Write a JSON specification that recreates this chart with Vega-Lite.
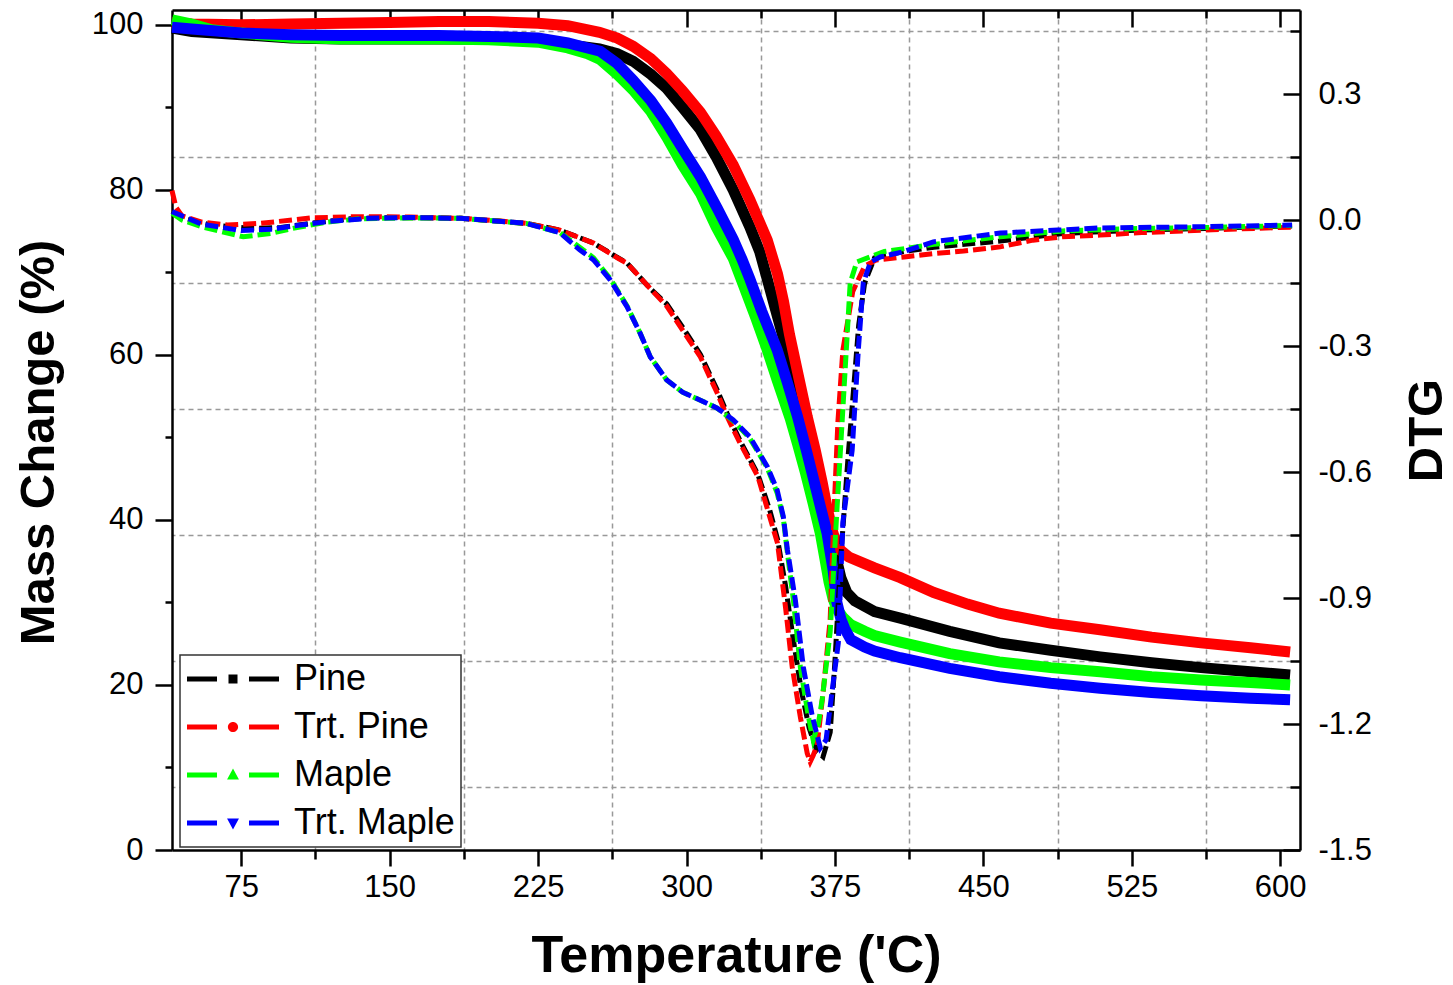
{
  "$schema": "https://vega.github.io/schema/vega-lite/v6.json",
  "width": 1128,
  "height": 840,
  "autosize": {"type": "none"},
  "padding": {"left": 172, "top": 10, "right": 153, "bottom": 135},
  "background": "white",
  "config": {
    "view": {"stroke": null},
    "font": "Liberation Sans",
    "axis": {
      "domainColor": "black", "domainWidth": 2.5, "tickColor": "black", "tickWidth": 2.5,
      "labelColor": "black", "labelFont": "Liberation Sans", "labelFontSize": 31,
      "titleColor": "black", "titleFont": "Liberation Sans", "titleFontWeight": "bold",
      "gridColor": "#999999", "gridDash": [5, 4], "gridWidth": 1.5
    }
  },
  "datasets": {
    "tga": [
      {"series": "Pine", "temp": 40, "mass": 99.6}, {"series": "Pine", "temp": 50, "mass": 99.2}, {"series": "Pine", "temp": 75, "mass": 98.8}, {"series": "Pine", "temp": 100, "mass": 98.4}, {"series": "Pine", "temp": 125, "mass": 98.3}, {"series": "Pine", "temp": 150, "mass": 98.3}, {"series": "Pine", "temp": 175, "mass": 98.3}, {"series": "Pine", "temp": 200, "mass": 98.3}, {"series": "Pine", "temp": 225, "mass": 98.0}, {"series": "Pine", "temp": 240, "mass": 97.6}, {"series": "Pine", "temp": 256, "mass": 97.1}, {"series": "Pine", "temp": 265, "mass": 96.5}, {"series": "Pine", "temp": 273, "mass": 95.6}, {"series": "Pine", "temp": 282, "mass": 94.0}, {"series": "Pine", "temp": 290, "mass": 92.3}, {"series": "Pine", "temp": 298, "mass": 90.0}, {"series": "Pine", "temp": 307, "mass": 87.3}, {"series": "Pine", "temp": 315, "mass": 84.0}, {"series": "Pine", "temp": 323.6, "mass": 80.0}, {"series": "Pine", "temp": 332, "mass": 75.5}, {"series": "Pine", "temp": 337, "mass": 72.5}, {"series": "Pine", "temp": 341, "mass": 69.0}, {"series": "Pine", "temp": 345, "mass": 65.5}, {"series": "Pine", "temp": 349, "mass": 62.0}, {"series": "Pine", "temp": 353, "mass": 58.5}, {"series": "Pine", "temp": 357, "mass": 55.0}, {"series": "Pine", "temp": 361, "mass": 51.5}, {"series": "Pine", "temp": 365, "mass": 47.0}, {"series": "Pine", "temp": 369, "mass": 42.5}, {"series": "Pine", "temp": 372, "mass": 39.5}, {"series": "Pine", "temp": 374, "mass": 37.5}, {"series": "Pine", "temp": 376, "mass": 35.0}, {"series": "Pine", "temp": 378, "mass": 33.0}, {"series": "Pine", "temp": 381, "mass": 31.2}, {"series": "Pine", "temp": 385, "mass": 30.2}, {"series": "Pine", "temp": 395, "mass": 28.9}, {"series": "Pine", "temp": 408, "mass": 28.1}, {"series": "Pine", "temp": 433, "mass": 26.5}, {"series": "Pine", "temp": 458, "mass": 25.1}, {"series": "Pine", "temp": 484, "mass": 24.2}, {"series": "Pine", "temp": 509, "mass": 23.4}, {"series": "Pine", "temp": 535, "mass": 22.7}, {"series": "Pine", "temp": 560, "mass": 22.1}, {"series": "Pine", "temp": 585, "mass": 21.6}, {"series": "Pine", "temp": 605, "mass": 21.2},

      {"series": "Trt. Pine", "temp": 40, "mass": 100.3}, {"series": "Trt. Pine", "temp": 50, "mass": 100.1}, {"series": "Trt. Pine", "temp": 75, "mass": 100.0}, {"series": "Trt. Pine", "temp": 100, "mass": 100.1}, {"series": "Trt. Pine", "temp": 125, "mass": 100.2}, {"series": "Trt. Pine", "temp": 150, "mass": 100.3}, {"series": "Trt. Pine", "temp": 175, "mass": 100.4}, {"series": "Trt. Pine", "temp": 200, "mass": 100.4}, {"series": "Trt. Pine", "temp": 225, "mass": 100.2}, {"series": "Trt. Pine", "temp": 240, "mass": 99.9}, {"series": "Trt. Pine", "temp": 256, "mass": 99.1}, {"series": "Trt. Pine", "temp": 265, "mass": 98.4}, {"series": "Trt. Pine", "temp": 273, "mass": 97.4}, {"series": "Trt. Pine", "temp": 282, "mass": 95.9}, {"series": "Trt. Pine", "temp": 290, "mass": 94.1}, {"series": "Trt. Pine", "temp": 298, "mass": 92.0}, {"series": "Trt. Pine", "temp": 307, "mass": 89.4}, {"series": "Trt. Pine", "temp": 315, "mass": 86.5}, {"series": "Trt. Pine", "temp": 323.6, "mass": 83.0}, {"series": "Trt. Pine", "temp": 332, "mass": 78.8}, {"series": "Trt. Pine", "temp": 340.8, "mass": 73.9}, {"series": "Trt. Pine", "temp": 346, "mass": 69.8}, {"series": "Trt. Pine", "temp": 349, "mass": 66.5}, {"series": "Trt. Pine", "temp": 352, "mass": 62.5}, {"series": "Trt. Pine", "temp": 356.5, "mass": 57.5}, {"series": "Trt. Pine", "temp": 361, "mass": 52.5}, {"series": "Trt. Pine", "temp": 365, "mass": 48.5}, {"series": "Trt. Pine", "temp": 368.6, "mass": 44.5}, {"series": "Trt. Pine", "temp": 371, "mass": 41.5}, {"series": "Trt. Pine", "temp": 374, "mass": 38.4}, {"series": "Trt. Pine", "temp": 376, "mass": 37.0}, {"series": "Trt. Pine", "temp": 378, "mass": 36.3}, {"series": "Trt. Pine", "temp": 382, "mass": 35.5}, {"series": "Trt. Pine", "temp": 395, "mass": 34.2}, {"series": "Trt. Pine", "temp": 408, "mass": 33.0}, {"series": "Trt. Pine", "temp": 425, "mass": 31.2}, {"series": "Trt. Pine", "temp": 442, "mass": 29.8}, {"series": "Trt. Pine", "temp": 458, "mass": 28.7}, {"series": "Trt. Pine", "temp": 484, "mass": 27.5}, {"series": "Trt. Pine", "temp": 509, "mass": 26.7}, {"series": "Trt. Pine", "temp": 535, "mass": 25.8}, {"series": "Trt. Pine", "temp": 560, "mass": 25.1}, {"series": "Trt. Pine", "temp": 585, "mass": 24.5}, {"series": "Trt. Pine", "temp": 605, "mass": 24.0},

      {"series": "Maple", "temp": 40, "mass": 100.6}, {"series": "Maple", "temp": 50, "mass": 100.1}, {"series": "Maple", "temp": 60, "mass": 99.4}, {"series": "Maple", "temp": 75, "mass": 99.0}, {"series": "Maple", "temp": 100, "mass": 98.5}, {"series": "Maple", "temp": 125, "mass": 98.3}, {"series": "Maple", "temp": 150, "mass": 98.3}, {"series": "Maple", "temp": 175, "mass": 98.3}, {"series": "Maple", "temp": 200, "mass": 98.2}, {"series": "Maple", "temp": 225, "mass": 97.9}, {"series": "Maple", "temp": 240, "mass": 97.2}, {"series": "Maple", "temp": 250, "mass": 96.5}, {"series": "Maple", "temp": 256.4, "mass": 95.8}, {"series": "Maple", "temp": 265, "mass": 94.0}, {"series": "Maple", "temp": 273, "mass": 92.1}, {"series": "Maple", "temp": 282, "mass": 89.5}, {"series": "Maple", "temp": 290, "mass": 86.4}, {"series": "Maple", "temp": 298, "mass": 83.0}, {"series": "Maple", "temp": 307, "mass": 79.6}, {"series": "Maple", "temp": 315, "mass": 75.5}, {"series": "Maple", "temp": 323.6, "mass": 71.7}, {"series": "Maple", "temp": 328.7, "mass": 68.5}, {"series": "Maple", "temp": 335, "mass": 64.5}, {"series": "Maple", "temp": 340.8, "mass": 60.6}, {"series": "Maple", "temp": 346, "mass": 56.8}, {"series": "Maple", "temp": 352.4, "mass": 52.3}, {"series": "Maple", "temp": 356, "mass": 49.3}, {"series": "Maple", "temp": 360, "mass": 45.8}, {"series": "Maple", "temp": 364, "mass": 42.0}, {"series": "Maple", "temp": 367.6, "mass": 38.4}, {"series": "Maple", "temp": 370, "mass": 35.2}, {"series": "Maple", "temp": 372, "mass": 32.5}, {"series": "Maple", "temp": 374, "mass": 30.5}, {"series": "Maple", "temp": 376, "mass": 29.2}, {"series": "Maple", "temp": 379, "mass": 28.2}, {"series": "Maple", "temp": 383, "mass": 27.3}, {"series": "Maple", "temp": 390, "mass": 26.5}, {"series": "Maple", "temp": 395, "mass": 26.0}, {"series": "Maple", "temp": 408, "mass": 25.2}, {"series": "Maple", "temp": 433, "mass": 23.8}, {"series": "Maple", "temp": 458, "mass": 22.8}, {"series": "Maple", "temp": 484, "mass": 22.1}, {"series": "Maple", "temp": 509, "mass": 21.6}, {"series": "Maple", "temp": 535, "mass": 21.0}, {"series": "Maple", "temp": 560, "mass": 20.6}, {"series": "Maple", "temp": 585, "mass": 20.3}, {"series": "Maple", "temp": 605, "mass": 20.0},

      {"series": "Trt. Maple", "temp": 40, "mass": 99.7}, {"series": "Trt. Maple", "temp": 50, "mass": 99.5}, {"series": "Trt. Maple", "temp": 75, "mass": 99.0}, {"series": "Trt. Maple", "temp": 100, "mass": 98.8}, {"series": "Trt. Maple", "temp": 125, "mass": 98.7}, {"series": "Trt. Maple", "temp": 150, "mass": 98.7}, {"series": "Trt. Maple", "temp": 175, "mass": 98.7}, {"series": "Trt. Maple", "temp": 200, "mass": 98.6}, {"series": "Trt. Maple", "temp": 225, "mass": 98.4}, {"series": "Trt. Maple", "temp": 240, "mass": 97.8}, {"series": "Trt. Maple", "temp": 256.4, "mass": 96.8}, {"series": "Trt. Maple", "temp": 265, "mass": 95.3}, {"series": "Trt. Maple", "temp": 273, "mass": 93.3}, {"series": "Trt. Maple", "temp": 282, "mass": 90.8}, {"series": "Trt. Maple", "temp": 290, "mass": 88.1}, {"series": "Trt. Maple", "temp": 298, "mass": 85.0}, {"series": "Trt. Maple", "temp": 307, "mass": 81.6}, {"series": "Trt. Maple", "temp": 315.5, "mass": 77.8}, {"series": "Trt. Maple", "temp": 323.6, "mass": 74.0}, {"series": "Trt. Maple", "temp": 328, "mass": 71.6}, {"series": "Trt. Maple", "temp": 332, "mass": 69.2}, {"series": "Trt. Maple", "temp": 338, "mass": 65.3}, {"series": "Trt. Maple", "temp": 345.8, "mass": 60.6}, {"series": "Trt. Maple", "temp": 351, "mass": 56.6}, {"series": "Trt. Maple", "temp": 356, "mass": 52.6}, {"series": "Trt. Maple", "temp": 361, "mass": 48.0}, {"series": "Trt. Maple", "temp": 366, "mass": 43.2}, {"series": "Trt. Maple", "temp": 371, "mass": 38.4}, {"series": "Trt. Maple", "temp": 374, "mass": 34.0}, {"series": "Trt. Maple", "temp": 376, "mass": 30.0}, {"series": "Trt. Maple", "temp": 378, "mass": 28.0}, {"series": "Trt. Maple", "temp": 380, "mass": 26.8}, {"series": "Trt. Maple", "temp": 383, "mass": 25.5}, {"series": "Trt. Maple", "temp": 390, "mass": 24.6}, {"series": "Trt. Maple", "temp": 395, "mass": 24.1}, {"series": "Trt. Maple", "temp": 408, "mass": 23.3}, {"series": "Trt. Maple", "temp": 433, "mass": 22.0}, {"series": "Trt. Maple", "temp": 458, "mass": 21.0}, {"series": "Trt. Maple", "temp": 484, "mass": 20.2}, {"series": "Trt. Maple", "temp": 509, "mass": 19.6}, {"series": "Trt. Maple", "temp": 535, "mass": 19.1}, {"series": "Trt. Maple", "temp": 560, "mass": 18.7}, {"series": "Trt. Maple", "temp": 585, "mass": 18.4}, {"series": "Trt. Maple", "temp": 605, "mass": 18.2}
    ],
    "dtg": [
      {"series": "Pine", "temp": 40, "d": 0.02}, {"series": "Pine", "temp": 45, "d": 0.005}, {"series": "Pine", "temp": 60, "d": -0.012}, {"series": "Pine", "temp": 80, "d": -0.02}, {"series": "Pine", "temp": 95, "d": -0.018}, {"series": "Pine", "temp": 110, "d": -0.008}, {"series": "Pine", "temp": 130, "d": 0.003}, {"series": "Pine", "temp": 150, "d": 0.006}, {"series": "Pine", "temp": 186, "d": 0.004}, {"series": "Pine", "temp": 219, "d": -0.008}, {"series": "Pine", "temp": 236, "d": -0.024}, {"series": "Pine", "temp": 253, "d": -0.055}, {"series": "Pine", "temp": 270, "d": -0.103}, {"series": "Pine", "temp": 282, "d": -0.165}, {"series": "Pine", "temp": 290, "d": -0.2}, {"series": "Pine", "temp": 298, "d": -0.255}, {"series": "Pine", "temp": 307, "d": -0.32}, {"series": "Pine", "temp": 315.5, "d": -0.405}, {"series": "Pine", "temp": 320.5, "d": -0.46}, {"series": "Pine", "temp": 327, "d": -0.525}, {"series": "Pine", "temp": 336, "d": -0.605}, {"series": "Pine", "temp": 342, "d": -0.69}, {"series": "Pine", "temp": 346, "d": -0.76}, {"series": "Pine", "temp": 350, "d": -0.87}, {"series": "Pine", "temp": 354, "d": -1.0}, {"series": "Pine", "temp": 358, "d": -1.12}, {"series": "Pine", "temp": 362, "d": -1.21}, {"series": "Pine", "temp": 366, "d": -1.265}, {"series": "Pine", "temp": 369, "d": -1.278}, {"series": "Pine", "temp": 372.6, "d": -1.22}, {"series": "Pine", "temp": 375, "d": -1.05}, {"series": "Pine", "temp": 378, "d": -0.8}, {"series": "Pine", "temp": 381.7, "d": -0.56}, {"series": "Pine", "temp": 384.3, "d": -0.41}, {"series": "Pine", "temp": 387, "d": -0.25}, {"series": "Pine", "temp": 390, "d": -0.15}, {"series": "Pine", "temp": 395, "d": -0.09}, {"series": "Pine", "temp": 410, "d": -0.075}, {"series": "Pine", "temp": 425, "d": -0.065}, {"series": "Pine", "temp": 458.5, "d": -0.05}, {"series": "Pine", "temp": 490, "d": -0.032}, {"series": "Pine", "temp": 530, "d": -0.024}, {"series": "Pine", "temp": 562, "d": -0.02}, {"series": "Pine", "temp": 606, "d": -0.014},

      {"series": "Trt. Pine", "temp": 40, "d": 0.07}, {"series": "Trt. Pine", "temp": 42, "d": 0.03}, {"series": "Trt. Pine", "temp": 45, "d": 0.01}, {"series": "Trt. Pine", "temp": 55, "d": -0.005}, {"series": "Trt. Pine", "temp": 68, "d": -0.012}, {"series": "Trt. Pine", "temp": 85, "d": -0.008}, {"series": "Trt. Pine", "temp": 110, "d": 0.005}, {"series": "Trt. Pine", "temp": 135, "d": 0.008}, {"series": "Trt. Pine", "temp": 160, "d": 0.007}, {"series": "Trt. Pine", "temp": 186, "d": 0.004}, {"series": "Trt. Pine", "temp": 205, "d": -0.002}, {"series": "Trt. Pine", "temp": 219, "d": -0.008}, {"series": "Trt. Pine", "temp": 236, "d": -0.024}, {"series": "Trt. Pine", "temp": 253, "d": -0.055}, {"series": "Trt. Pine", "temp": 265, "d": -0.09}, {"series": "Trt. Pine", "temp": 270, "d": -0.103}, {"series": "Trt. Pine", "temp": 282, "d": -0.165}, {"series": "Trt. Pine", "temp": 290, "d": -0.205}, {"series": "Trt. Pine", "temp": 298, "d": -0.262}, {"series": "Trt. Pine", "temp": 307, "d": -0.326}, {"series": "Trt. Pine", "temp": 315.5, "d": -0.412}, {"series": "Trt. Pine", "temp": 320.5, "d": -0.468}, {"series": "Trt. Pine", "temp": 327, "d": -0.531}, {"series": "Trt. Pine", "temp": 336, "d": -0.61}, {"series": "Trt. Pine", "temp": 342, "d": -0.706}, {"series": "Trt. Pine", "temp": 346, "d": -0.77}, {"series": "Trt. Pine", "temp": 350, "d": -0.921}, {"series": "Trt. Pine", "temp": 353.4, "d": -1.064}, {"series": "Trt. Pine", "temp": 357.5, "d": -1.183}, {"series": "Trt. Pine", "temp": 361, "d": -1.27}, {"series": "Trt. Pine", "temp": 362.5, "d": -1.29}, {"series": "Trt. Pine", "temp": 364, "d": -1.275}, {"series": "Trt. Pine", "temp": 366, "d": -1.25}, {"series": "Trt. Pine", "temp": 369, "d": -1.126}, {"series": "Trt. Pine", "temp": 372.6, "d": -0.95}, {"series": "Trt. Pine", "temp": 374.5, "d": -0.7}, {"series": "Trt. Pine", "temp": 376.5, "d": -0.48}, {"series": "Trt. Pine", "temp": 379, "d": -0.31}, {"series": "Trt. Pine", "temp": 384, "d": -0.17}, {"series": "Trt. Pine", "temp": 390, "d": -0.11}, {"series": "Trt. Pine", "temp": 396, "d": -0.095}, {"series": "Trt. Pine", "temp": 410, "d": -0.088}, {"series": "Trt. Pine", "temp": 425, "d": -0.08}, {"series": "Trt. Pine", "temp": 440, "d": -0.074}, {"series": "Trt. Pine", "temp": 458.5, "d": -0.064}, {"series": "Trt. Pine", "temp": 475, "d": -0.048}, {"series": "Trt. Pine", "temp": 490, "d": -0.04}, {"series": "Trt. Pine", "temp": 509, "d": -0.036}, {"series": "Trt. Pine", "temp": 530, "d": -0.03}, {"series": "Trt. Pine", "temp": 562, "d": -0.024}, {"series": "Trt. Pine", "temp": 606, "d": -0.017},

      {"series": "Maple", "temp": 40, "d": 0.016}, {"series": "Maple", "temp": 45, "d": 0.0}, {"series": "Maple", "temp": 55, "d": -0.016}, {"series": "Maple", "temp": 76, "d": -0.04}, {"series": "Maple", "temp": 90, "d": -0.032}, {"series": "Maple", "temp": 101, "d": -0.02}, {"series": "Maple", "temp": 118, "d": -0.005}, {"series": "Maple", "temp": 135, "d": 0.003}, {"series": "Maple", "temp": 160, "d": 0.005}, {"series": "Maple", "temp": 186, "d": 0.004}, {"series": "Maple", "temp": 219, "d": -0.008}, {"series": "Maple", "temp": 236, "d": -0.03}, {"series": "Maple", "temp": 246, "d": -0.065}, {"series": "Maple", "temp": 253, "d": -0.09}, {"series": "Maple", "temp": 261.5, "d": -0.14}, {"series": "Maple", "temp": 270, "d": -0.205}, {"series": "Maple", "temp": 276.6, "d": -0.27}, {"series": "Maple", "temp": 281.7, "d": -0.326}, {"series": "Maple", "temp": 290, "d": -0.381}, {"series": "Maple", "temp": 298, "d": -0.41}, {"series": "Maple", "temp": 307, "d": -0.429}, {"series": "Maple", "temp": 315.5, "d": -0.448}, {"series": "Maple", "temp": 323.6, "d": -0.478}, {"series": "Maple", "temp": 332, "d": -0.52}, {"series": "Maple", "temp": 340.8, "d": -0.59}, {"series": "Maple", "temp": 345.8, "d": -0.65}, {"series": "Maple", "temp": 348.9, "d": -0.71}, {"series": "Maple", "temp": 350.9, "d": -0.79}, {"series": "Maple", "temp": 354, "d": -0.905}, {"series": "Maple", "temp": 357.5, "d": -1.064}, {"series": "Maple", "temp": 361.5, "d": -1.18}, {"series": "Maple", "temp": 364, "d": -1.238}, {"series": "Maple", "temp": 366.6, "d": -1.2}, {"series": "Maple", "temp": 368.6, "d": -1.14}, {"series": "Maple", "temp": 372.6, "d": -0.98}, {"series": "Maple", "temp": 376, "d": -0.69}, {"series": "Maple", "temp": 379, "d": -0.45}, {"series": "Maple", "temp": 382.7, "d": -0.15}, {"series": "Maple", "temp": 386, "d": -0.1}, {"series": "Maple", "temp": 392.8, "d": -0.088}, {"series": "Maple", "temp": 400, "d": -0.075}, {"series": "Maple", "temp": 425, "d": -0.058}, {"series": "Maple", "temp": 458.5, "d": -0.04}, {"series": "Maple", "temp": 490, "d": -0.026}, {"series": "Maple", "temp": 530, "d": -0.02}, {"series": "Maple", "temp": 562, "d": -0.018}, {"series": "Maple", "temp": 606, "d": -0.013},

      {"series": "Trt. Maple", "temp": 40, "d": 0.02}, {"series": "Trt. Maple", "temp": 45, "d": 0.01}, {"series": "Trt. Maple", "temp": 55, "d": -0.01}, {"series": "Trt. Maple", "temp": 75, "d": -0.025}, {"series": "Trt. Maple", "temp": 90, "d": -0.022}, {"series": "Trt. Maple", "temp": 105, "d": -0.012}, {"series": "Trt. Maple", "temp": 120, "d": -0.003}, {"series": "Trt. Maple", "temp": 140, "d": 0.004}, {"series": "Trt. Maple", "temp": 160, "d": 0.006}, {"series": "Trt. Maple", "temp": 186, "d": 0.004}, {"series": "Trt. Maple", "temp": 219, "d": -0.008}, {"series": "Trt. Maple", "temp": 236, "d": -0.03}, {"series": "Trt. Maple", "temp": 246, "d": -0.071}, {"series": "Trt. Maple", "temp": 253, "d": -0.095}, {"series": "Trt. Maple", "temp": 261.5, "d": -0.143}, {"series": "Trt. Maple", "temp": 270, "d": -0.207}, {"series": "Trt. Maple", "temp": 276.6, "d": -0.27}, {"series": "Trt. Maple", "temp": 281.7, "d": -0.326}, {"series": "Trt. Maple", "temp": 290, "d": -0.381}, {"series": "Trt. Maple", "temp": 298, "d": -0.41}, {"series": "Trt. Maple", "temp": 307, "d": -0.429}, {"series": "Trt. Maple", "temp": 315.5, "d": -0.448}, {"series": "Trt. Maple", "temp": 323.6, "d": -0.476}, {"series": "Trt. Maple", "temp": 332, "d": -0.516}, {"series": "Trt. Maple", "temp": 340.8, "d": -0.587}, {"series": "Trt. Maple", "temp": 345.8, "d": -0.643}, {"series": "Trt. Maple", "temp": 348.9, "d": -0.706}, {"series": "Trt. Maple", "temp": 351, "d": -0.786}, {"series": "Trt. Maple", "temp": 355, "d": -0.905}, {"series": "Trt. Maple", "temp": 359, "d": -1.064}, {"series": "Trt. Maple", "temp": 363.5, "d": -1.18}, {"series": "Trt. Maple", "temp": 367.6, "d": -1.257}, {"series": "Trt. Maple", "temp": 370.5, "d": -1.238}, {"series": "Trt. Maple", "temp": 373, "d": -1.143}, {"series": "Trt. Maple", "temp": 376.7, "d": -1.007}, {"series": "Trt. Maple", "temp": 379, "d": -0.72}, {"series": "Trt. Maple", "temp": 383.7, "d": -0.548}, {"series": "Trt. Maple", "temp": 386.8, "d": -0.31}, {"series": "Trt. Maple", "temp": 389.3, "d": -0.15}, {"series": "Trt. Maple", "temp": 393, "d": -0.1}, {"series": "Trt. Maple", "temp": 397.9, "d": -0.088}, {"series": "Trt. Maple", "temp": 410, "d": -0.075}, {"series": "Trt. Maple", "temp": 424.7, "d": -0.052}, {"series": "Trt. Maple", "temp": 458.5, "d": -0.031}, {"series": "Trt. Maple", "temp": 487.5, "d": -0.024}, {"series": "Trt. Maple", "temp": 509, "d": -0.019}, {"series": "Trt. Maple", "temp": 562, "d": -0.016}, {"series": "Trt. Maple", "temp": 606, "d": -0.012}
    ]
  },
  "layer": [
    {
      "data": {"name": "tga"},
      "encoding": {
        "x": {
          "field": "temp", "type": "quantitative",
          "scale": {"domain": [40, 610], "nice": false, "zero": false},
          "axis": {
            "orient": "bottom",
            "values": [75, 112.5, 150, 187.5, 225, 262.5, 300, 337.5, 375, 412.5, 450, 487.5, 525, 562.5, 600],
            "labelExpr": "datum.value % 75 == 0 ? datum.label : ''",
            "tickSize": {"condition": {"test": "datum.value % 75 != 0", "value": 9}, "value": 16},
            "labelPadding": 6,
            "grid": true,
            "gridOpacity": {"condition": {"test": "datum.value % 75 != 0", "value": 1}, "value": 0},
            "title": "Temperature ('C)",
            "titleFontSize": 52,
            "titlePadding": 28
          }
        },
        "y": {
          "field": "mass", "type": "quantitative",
          "scale": {"domain": [0, 101.8], "nice": false, "zero": false},
          "axis": {
            "orient": "left",
            "values": [0, 10, 20, 30, 40, 50, 60, 70, 80, 90, 100],
            "labelExpr": "datum.value % 20 == 0 ? datum.label : ''",
            "tickSize": {"condition": {"test": "datum.value % 20 != 0", "value": 7}, "value": 17},
            "labelPadding": 12,
            "grid": false,
            "title": "Mass Change (%)",
            "titleFontSize": 49,
            "titlePadding": 28,
            "titleY": 432
          }
        }
      },
      "layer": [
        {
          "mark": {"type": "line", "strokeWidth": 11, "strokeCap": "butt"},
          "encoding": {
            "stroke": {"field": "series", "type": "nominal",
              "scale": {"domain": ["Trt. Maple", "Maple", "Trt. Pine", "Pine"], "range": ["#0000ff", "#00ff00", "#ff0000", "#000000"]},
              "legend": null}
          }
        },
        {
          "mark": {"type": "point", "filled": true, "opacity": 0},
          "encoding": {
            "fill": {"field": "series", "type": "nominal",
              "scale": {"domain": ["Pine", "Trt. Pine", "Maple", "Trt. Maple"], "range": ["#000000", "#ff0000", "#00ff00", "#0000ff"]},
              "legend": {
                "title": null, "orient": "none", "legendX": 8, "legendY": 645,
                "strokeColor": "#333333", "fillColor": "white", "padding": 6,
                "symbolSize": 1156, "labelFontSize": 36, "labelFont": "Liberation Sans", "labelColor": "black",
                "labelOffset": 72, "rowPadding": 12, "labelLimit": 400,
                "labelExpr": "datum.label + '\u00a0\u00a0\u00a0'",
                "encode": {
                  "legend": {"update": {"strokeWidth": {"value": 1.5}}},
                  "symbols": {"update": {"opacity": {"value": 1}, "fillOpacity": {"value": 1}, "strokeWidth": {"value": 0}}}
                }
              }},
            "shape": {"field": "series", "type": "nominal",
              "scale": {"domain": ["Pine", "Trt. Pine", "Maple", "Trt. Maple"], "range": [
                "M-1,-0.147H0.765V0.147H-1Z M1.441,-0.265H1.971V0.265H1.441Z M2.647,-0.147H4.412V0.147H2.647Z",
                "M-1,-0.147H0.765V0.147H-1Z M1.406,0A0.3,0.3 0 1,0 2.006,0A0.3,0.3 0 1,0 1.406,0Z M2.647,-0.147H4.412V0.147H2.647Z",
                "M-1,-0.147H0.765V0.147H-1Z M1.356,0.26L2.056,0.26L1.706,-0.38Z M2.647,-0.147H4.412V0.147H2.647Z",
                "M-1,-0.147H0.765V0.147H-1Z M1.356,-0.26L2.056,-0.26L1.706,0.38Z M2.647,-0.147H4.412V0.147H2.647Z"
              ]},
              "legend": {
                "title": null, "orient": "none", "legendX": 8, "legendY": 645,
                "strokeColor": "#333333", "fillColor": "white", "padding": 6,
                "symbolSize": 1156, "labelFontSize": 36, "labelFont": "Liberation Sans", "labelColor": "black",
                "labelOffset": 72, "rowPadding": 12, "labelLimit": 400,
                "labelExpr": "datum.label + '\u00a0\u00a0\u00a0'",
                "encode": {
                  "legend": {"update": {"strokeWidth": {"value": 1.5}}},
                  "symbols": {"update": {"opacity": {"value": 1}, "fillOpacity": {"value": 1}, "strokeWidth": {"value": 0}}}
                }
              }}
          }
        }
      ]
    },
    {
      "data": {"name": "dtg"},
      "mark": {"type": "line", "strokeWidth": 5, "strokeDash": [13, 5], "strokeCap": "butt"},
      "encoding": {
        "x": {
          "field": "temp", "type": "quantitative",
          "scale": {"domain": [40, 610], "nice": false, "zero": false},
          "axis": {
            "orient": "top",
            "values": [75, 112.5, 150, 187.5, 225, 262.5, 300, 337.5, 375, 412.5, 450, 487.5, 525, 562.5, 600],
            "labels": false,
            "tickSize": {"condition": {"test": "datum.value % 75 != 0", "value": -8}, "value": -17},
            "grid": false,
            "title": null
          }
        },
        "y": {
          "field": "d", "type": "quantitative",
          "scale": {"domain": [-1.5, 0.5], "nice": false, "zero": false},
          "axis": {
            "orient": "right",
            "values": [-1.5, -1.35, -1.2, -1.05, -0.9, -0.75, -0.6, -0.45, -0.3, -0.15, 0, 0.15, 0.3, 0.45],
            "labelExpr": "abs(round(datum.value*100)) % 30 == 15 ? '' : replace(format(datum.value, '.1f'), '\u2212', '-')",
            "tickSize": {"condition": {"test": "abs(round(datum.value*100)) % 30 == 15", "value": -10}, "value": -17},
            "labelPadding": 35,
            "grid": true,
            "gridOpacity": {"condition": {"test": "abs(round(datum.value*100)) % 30 == 15", "value": 1}, "value": 0},
            "title": "DTG",
            "titleAngle": 270,
            "titleFontSize": 49,
            "titlePadding": 80
          }
        },
        "stroke": {"field": "series", "type": "nominal",
          "scale": {"domain": ["Trt. Maple", "Maple", "Trt. Pine", "Pine"], "range": ["#0000ff", "#00ff00", "#ff0000", "#000000"]},
          "legend": null}
      }
    }
  ],
  "resolve": {"scale": {"y": "independent"}, "axis": {"x": "independent", "y": "independent"}}
}
